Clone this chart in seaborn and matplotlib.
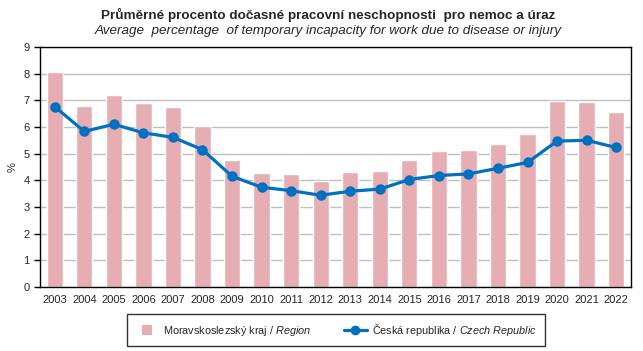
import numpy as np
import pandas as pd
import matplotlib
matplotlib.use("Agg")
import matplotlib.pyplot as plt
from matplotlib.lines import Line2D
import seaborn as sns

# Data
years = [str(y) for y in range(2003, 2023)]
region = [8.05, 6.8, 7.2, 6.9, 6.75, 6.05, 4.75, 4.27, 4.22, 3.97,
          4.3, 4.34, 4.75, 5.09, 5.12, 5.35, 5.72, 6.97, 6.93, 6.55]
czech = [6.76, 5.83, 6.1, 5.78, 5.61, 5.15, 4.15, 3.74, 3.61, 3.44,
         3.59, 3.67, 4.03, 4.18, 4.24, 4.45, 4.67, 5.47, 5.5, 5.23]

label_region = r"Moravskoslezský kraj / $\it{Region}$"
label_czech = r"Česká republika / $\it{Czech\ Republic}$"

sns.set_style("white")
plt.rcParams['font.family'] = ['Liberation Sans', 'DejaVu Sans']
plt.rcParams['mathtext.fontset'] = 'custom'
plt.rcParams['mathtext.rm'] = 'Liberation Sans'
plt.rcParams['mathtext.it'] = 'Liberation Sans:italic'

df = pd.DataFrame({"rok": years, "kraj": region, "cr": czech})

fig = plt.figure(figsize=(6.43, 3.51), dpi=100)
ax = fig.add_axes([0.0622, 0.1823, 0.919, 0.684])

ax.yaxis.grid(True, color="#BFBFBF", linewidth=1)
ax.set_axisbelow(True)

sns.barplot(data=df, x="rok", y="kraj", color="#E6AEB2", saturation=1,
            width=0.55, ax=ax)
sns.lineplot(x=np.arange(len(years)), y=df["cr"], color="#0070C0",
             linewidth=2.3, marker="o", markersize=7.5, markeredgewidth=0, ax=ax)

ax.set_xlim(-0.5, len(years) - 0.5)
ax.set_ylim(0, 9)
ax.set_yticks(range(0, 10))
ax.set_xlabel("")
ax.set_ylabel("%", fontsize=8)

for s in ax.spines.values():
    s.set_color("black")
    s.set_linewidth(1)

ax.tick_params(axis="x", which="major", length=0, labelsize=8, pad=6)
ax.set_xticks(np.arange(-0.5, len(years) + 0.5, 1), minor=True)
ax.tick_params(axis="x", which="minor", length=4, width=1, color="black", direction="out")
ax.tick_params(axis="y", length=4, width=1, color="black", direction="out", labelsize=8, left=True)

fig.text(0.51, 0.956, "Průměrné procento dočasné pracovní neschopnosti  pro nemoc a úraz",
         ha="center", va="center", fontsize=9.7, fontweight="bold")
fig.text(0.51, 0.912, "Average  percentage  of temporary incapacity for work due to disease or injury",
         ha="center", va="center", fontsize=9.7, style="italic")

handles = [Line2D([0], [0], linestyle="none", marker="s", markersize=6.5,
                  markerfacecolor="#E6AEB2", markeredgewidth=0),
           Line2D([0], [0], color="#0070C0", linewidth=2.3, marker="o", markersize=7,
                  markeredgewidth=0)]
leg = fig.legend(handles, [label_region, label_czech], loc="center",
                 bbox_to_anchor=(0.5226, 0.0598), ncol=2, fontsize=7.8,
                 frameon=True, fancybox=False, edgecolor="black",
                 handlelength=2.1, handletextpad=0.45, columnspacing=3.0,
                 borderpad=0.75, borderaxespad=0)
leg.get_frame().set_linewidth(1)

fig.savefig("out.png", dpi=100)
